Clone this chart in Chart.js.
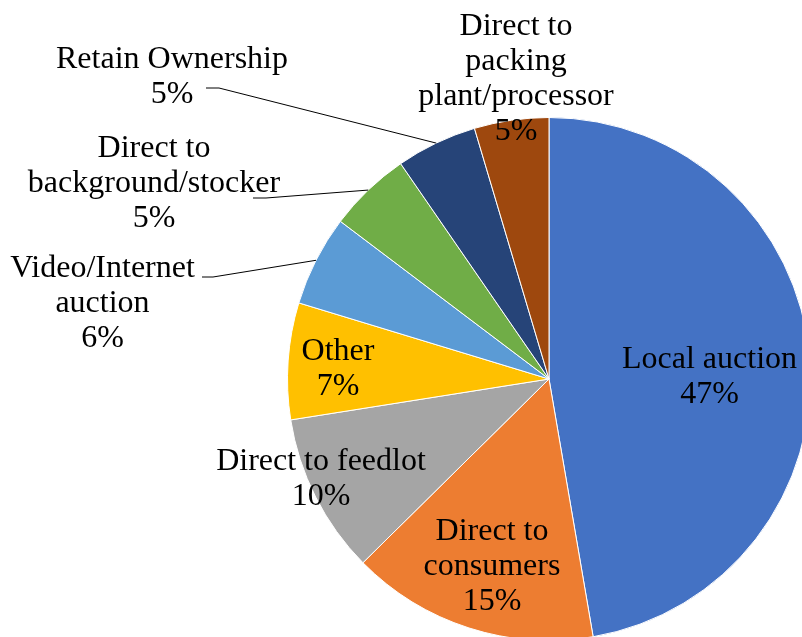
<!DOCTYPE html>
<html>
<head>
<meta charset="utf-8">
<script src="https://cdn.jsdelivr.net/npm/chart.js@4/dist/chart.umd.min.js"></script>
<style>
  html, body { margin: 0; padding: 0; background: #fff; overflow: hidden; }
  #wrap { width: 802px; height: 637px; overflow: hidden; position: relative; }
  #c { position: absolute; left: 0; top: 0; }
</style>
</head>
<body>
<div id="wrap"><canvas id="c" width="820" height="650"></canvas></div>
<script>
// Marketing channels for calves (share of respondents, %)
const categories = [
  'Local auction',
  'Direct to consumers',
  'Direct to feedlot',
  'Other',
  'Video/Internet auction',
  'Direct to background/stocker',
  'Retain Ownership',
  'Direct to packing plant/processor'
];
const shares = [47.3, 15.3, 9.9, 7.2, 5.6, 5.1, 5.0, 4.6];
const sliceColors = ['#4472C4', '#ED7D31', '#A5A5A5', '#FFC000', '#5B9BD5', '#70AD47', '#264478', '#9E480E'];

// Label placement relative to the pie centre: text anchor (centre x, first baseline),
// wrap width, and optional leader line start.
const labelLayout = [
  { dx: 160.5, dy: -11,  wrap: 250 },
  { dx: -57,   dy: 161,  wrap: 160 },
  { dx: -228,  dy: 91,   wrap: 260 },
  { dx: -211,  dy: -19,  wrap: 150 },
  { dx: -446.5, dy: -102, wrap: 200, leader: { x: -347, y: -102, run: 11 } },
  { dx: -395,  dy: -222, wrap: 265, leader: { x: -296, y: -181, run: 13 } },
  { dx: -377,  dy: -311, wrap: 260, leader: { x: -343, y: -291, run: 13 } },
  { dx: -33,   dy: -344, wrap: 205 }
];
const LINE_STEP = 35;
const LABEL_FONT = '32px "Liberation Serif", "Times New Roman", serif';

function wrapText(ctx, text, maxWidth) {
  const words = text.split(' ');
  const lines = [];
  let cur = '';
  words.forEach(w => {
    const test = cur ? cur + ' ' + w : w;
    if (cur && ctx.measureText(test).width > maxWidth) {
      lines.push(cur);
      cur = w;
    } else {
      cur = test;
    }
  });
  if (cur) lines.push(cur);
  return lines;
}

const sliceLabels = {
  id: 'sliceLabels',
  afterDatasetsDraw(chart) {
    const ctx = chart.ctx;
    const meta = chart.getDatasetMeta(0);
    const total = shares.reduce((a, b) => a + b, 0);
    ctx.save();
    ctx.font = LABEL_FONT;
    ctx.fillStyle = '#000';
    ctx.textAlign = 'center';
    ctx.textBaseline = 'alphabetic';
    meta.data.forEach((arc, i) => {
      const p = arc.getProps(['x', 'y', 'startAngle', 'endAngle', 'outerRadius'], true);
      const L = labelLayout[i];
      const lines = wrapText(ctx, categories[i], L.wrap);
      lines.push(Math.round(shares[i] / total * 100) + '%');
      const lx = p.x + L.dx, ly = p.y + L.dy;
      lines.forEach((t, k) => ctx.fillText(t, lx, ly + k * LINE_STEP));
      if (L.leader) {
        const mid = (p.startAngle + p.endAngle) / 2;
        const ex = p.x + Math.cos(mid) * p.outerRadius;
        const ey = p.y + Math.sin(mid) * p.outerRadius;
        const sx = p.x + L.leader.x, sy = p.y + L.leader.y;
        ctx.beginPath();
        ctx.strokeStyle = '#000';
        ctx.lineWidth = 1;
        ctx.moveTo(sx, sy);
        ctx.lineTo(sx + L.leader.run, sy);
        ctx.lineTo(ex, ey);
        ctx.stroke();
      }
    });
    ctx.restore();
  }
};

new Chart(document.getElementById('c'), {
  type: 'pie',
  data: {
    labels: categories,
    datasets: [{
      data: shares,
      backgroundColor: sliceColors,
      borderColor: '#ffffff',
      borderWidth: 1
    }]
  },
  options: {
    responsive: false,
    animation: false,
    layout: { padding: { left: 287, top: 117, right: 9, bottom: 9 } },
    plugins: {
      legend: { display: false },
      tooltip: { enabled: false }
    }
  },
  plugins: [sliceLabels]
});
</script>
</body>
</html>
